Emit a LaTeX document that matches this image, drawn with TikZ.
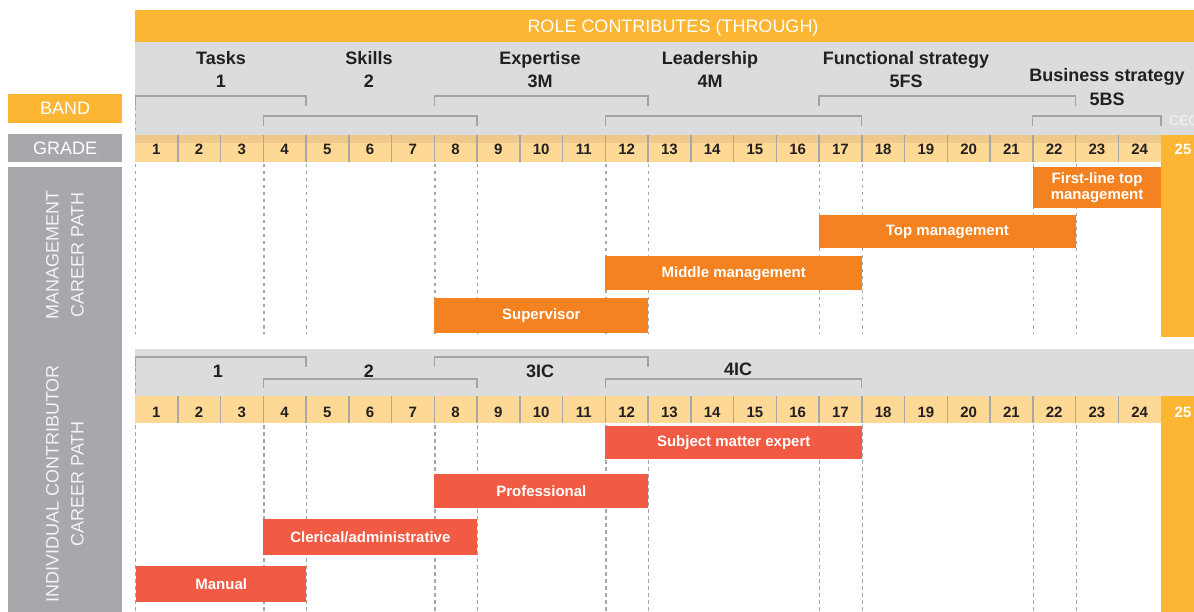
\documentclass[tikz,border=0pt]{standalone}
\usepackage{fontspec}
\setmainfont{Liberation Sans}
\definecolor{orangetop}{HTML}{FCB634}
\definecolor{bandgray}{HTML}{DBDCDE}
\definecolor{gradelight}{HTML}{FED895}
\definecolor{gradedark}{HTML}{EEC98B}
\definecolor{divider}{HTML}{A6A7AA}
\definecolor{brackgray}{HTML}{A3A4A7}
\definecolor{labelgray}{HTML}{A7A8AB}
\definecolor{mgmtorange}{HTML}{F58220}
\definecolor{icred}{HTML}{F15A43}
\definecolor{textdark}{HTML}{231F20}
\definecolor{paletext}{HTML}{F3F3F3}
\begin{document}
\begin{tikzpicture}[x=1pt,y=-1pt,
  titletext/.style={text=white,font=\fontsize{18}{21}\selectfont,anchor=base,inner sep=0pt},
  sidelabel/.style={text=white,font=\fontsize{18}{21}\selectfont,inner sep=0pt,anchor=north west},
  pathlabel/.style={text=paletext,font=\fontsize{18}{25}\selectfont,rotate=90,align=center,inner sep=0pt},
  bandlbl/.style={text=textdark,font=\bfseries\fontsize{18}{21}\selectfont,anchor=base,inner sep=0pt},
  gradenum/.style={text=textdark,font=\bfseries\fontsize{15}{18}\selectfont,anchor=base,inner sep=0pt},
  topnum/.style={text=white,font=\bfseries\fontsize{15}{18}\selectfont,anchor=base,inner sep=0pt},
  brk/.style={draw=brackgray,line width=1.4pt},
  guide/.style={draw=divider,line width=1.2pt,dash pattern=on 3.5pt off 3.5pt},
  cellsep/.style={draw=divider,line width=1.5pt},
  barbase/.style={rectangle,inner sep=0pt,anchor=north west,text=white,align=center,
    font=\bfseries\fontsize{15}{16}\selectfont},
  mbar/.style={barbase,fill=mgmtorange},
  ibar/.style={barbase,fill=icred}
]
\useasboundingbox (0,0) rectangle (1194,612);
\clip (0,0) rectangle (1194,612);

% ---------- header ----------
\fill[orangetop] (135,10) rectangle (1194,42);
\node[titletext] (title) at (673,32.5) {ROLE CONTRIBUTES (THROUGH)};
\fill[bandgray] (135,42) rectangle (1194,135);

% side labels
\node[sidelabel,fill=orangetop,minimum width=114pt,minimum height=29pt] (band) at (8,94) {BAND};
\node[sidelabel,fill=labelgray,minimum width=114pt,minimum height=28pt] (grade) at (8,134) {GRADE};
\fill[labelgray] (8,167) rectangle (122,612);
\node[pathlabel] (mgmtlabel) at (65,255) {MANAGEMENT\\CAREER PATH};
\node[pathlabel] (iclabel) at (65,484) {INDIVIDUAL CONTRIBUTOR\\CAREER PATH};

% band labels (top)
\node[bandlbl] (tasks) at (221,65) {Tasks};
\node[bandlbl] (tasksn) at (221,88) {1};
\node[bandlbl] (skills) at (369,65) {Skills};
\node[bandlbl] (skillsn) at (369,88) {2};
\node[bandlbl] (expertise) at (540,65) {Expertise};
\node[bandlbl] (expertisen) at (540,88) {3M};
\node[bandlbl] (leadership) at (710,65) {Leadership};
\node[bandlbl] (leadershipn) at (710,88) {4M};
\node[bandlbl] (functional) at (906,65) {Functional strategy};
\node[bandlbl] (functionaln) at (906,88) {5FS};
\node[bandlbl] (business) at (1107,82) {Business strategy};
\node[bandlbl] (businessn) at (1107,106) {5BS};
\node[text=paletext,font=\fontsize{14}{16}\selectfont,anchor=base west,inner sep=0pt] (ceo) at (1169,126) {CEO};

% brackets (top)
\draw[brk] (135.7,106) -- (135.7,96) -- (306,96) -- (306,106);
\draw[brk] (434.25,106) -- (434.25,96) -- (648,96) -- (648,106);
\draw[brk] (819,106) -- (819,96) -- (1075.5,96) -- (1075.5,106);
\draw[brk] (263.25,126) -- (263.25,116) -- (477,116) -- (477,126);
\draw[brk] (605.25,126) -- (605.25,116) -- (861.75,116) -- (861.75,126);
\draw[brk] (1032.75,126) -- (1032.75,116) -- (1161,116) -- (1161,126);
\draw[guide] (135.7,107) -- (135.7,135);

% grade row (top)
\fill[gradelight] (135,135) rectangle (1161,162);
\fill[gradedark] (135,135) rectangle (1161,143.5);
\foreach \i in {1,...,23} {\draw[cellsep] ({135+\i*42.75},135) -- ({135+\i*42.75},162);}
\foreach \i in {1,...,24} {\node[gradenum] (ga\i) at ({135+(\i-0.5)*42.75},155) {\i};}
\fill[orangetop] (1161,135) rectangle (1194,337);
\node[topnum] (ga25) at (1183,155) {25};

% guides (management)
\foreach \c in {1,4,5,8,9,12,13,17,18,22,23} {
  \draw[guide] ({135.7+(\c-1)*42.75},164) -- ({135.7+(\c-1)*42.75},334);
}

% management bars
\node[mbar,minimum width=128.25pt,minimum height=41pt] (firstline) at (1032.75,167) {First-line top\\management};
\node[mbar,minimum width=256.5pt,minimum height=33pt] (topmgmt) at (819,215) {Top management};
\node[mbar,minimum width=256.5pt,minimum height=34pt] (midmgmt) at (605.25,256) {Middle management};
\node[mbar,minimum width=213.75pt,minimum height=35pt] (supervisor) at (434.25,298) {Supervisor};

% ---------- individual contributor ----------
\fill[bandgray] (135,349) rectangle (1194,396);
\draw[brk] (135.7,367) -- (135.7,357) -- (306,357) -- (306,367);
\draw[brk] (434.25,367) -- (434.25,357) -- (648,357) -- (648,367);
\draw[brk] (263.25,388) -- (263.25,379) -- (477,379) -- (477,388);
\draw[brk] (605.25,388) -- (605.25,379) -- (861.75,379) -- (861.75,388);
\draw[guide] (135.7,368) -- (135.7,396);
\node[bandlbl] (icone) at (218,377) {1};
\node[bandlbl] (ictwo) at (369,377) {2};
\node[bandlbl] (icthree) at (540,377) {3IC};
\node[bandlbl] (icfour) at (738,375) {4IC};

\fill[gradelight] (135,396) rectangle (1161,423);
\foreach \i in {1,...,23} {\draw[cellsep] ({135+\i*42.75},396) -- ({135+\i*42.75},423);}
\foreach \i in {1,...,24} {\node[gradenum] (gb\i) at ({135+(\i-0.5)*42.75},417) {\i};}
\fill[orangetop] (1161,396) rectangle (1194,612);
\node[topnum] (gb25) at (1183,417) {25};

\foreach \c in {1,4,5,8,9,12,13,17,18,22,23} {
  \draw[guide] ({135.7+(\c-1)*42.75},425) -- ({135.7+(\c-1)*42.75},612);
}

\node[ibar,minimum width=256.5pt,minimum height=33pt] (sme) at (605.25,426) {Subject matter expert};
\node[ibar,minimum width=213.75pt,minimum height=34pt] (professional) at (434.25,474) {Professional};
\node[ibar,minimum width=213.75pt,minimum height=36pt] (clerical) at (263.25,519) {Clerical/administrative};
\node[ibar,minimum width=170pt,minimum height=36pt] (manual) at (136,566) {Manual};
\end{tikzpicture}
\end{document}
